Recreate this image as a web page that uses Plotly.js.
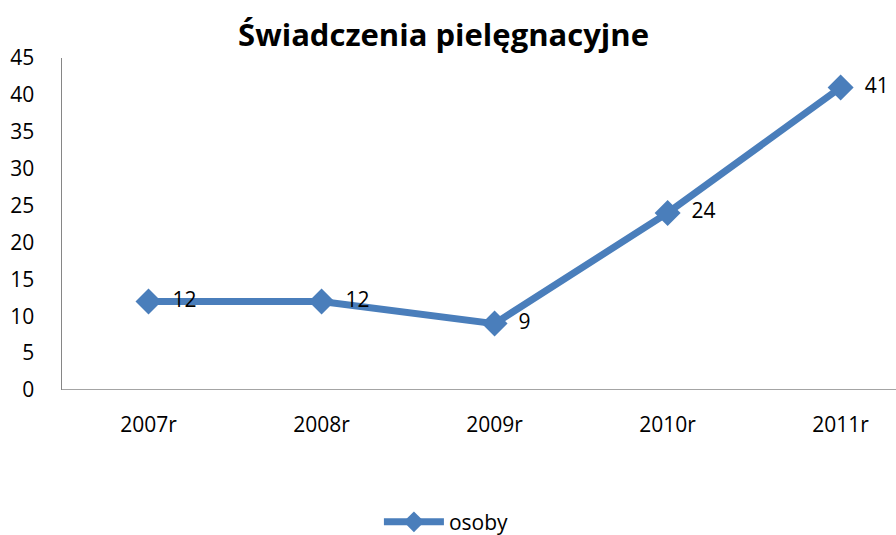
<!DOCTYPE html>
<html><head><meta charset="utf-8">
<script src="https://cdn.plot.ly/plotly-3.0.1.min.js"></script>
<style>body{margin:0;padding:0;background:#fff}#chart{width:896px;height:535px}</style>
</head><body><div id="chart"></div>
<script>
const categories = ["2007r","2008r","2009r","2010r","2011r"];
const osoby = [12,12,9,24,41];
const seriesName = "osoby";
const yTicks = [0,5,10,15,20,25,30,35,40,45];

const fontFam = 'Open Sans, sans-serif';
const trace = {
  x: categories.map((c,i)=>i), y: osoby, name: seriesName,
  type: 'scatter', mode: 'lines+markers+text',
  text: osoby.map(v => '\u2002' + v), textposition: 'middle right',
  textfont: {family: fontFam, size: 21, color: '#000'},
  line: {color: '#4a7ebb', width: 7},
  marker: {symbol: 'diamond', size: 20, color: '#4a7ebb'},
  cliponaxis: false
};
const layout = {
  width: 896, height: 535,
  margin: {l: 62, r: 0, t: 58, b: 145, autoexpand: false},
  paper_bgcolor: '#fff', plot_bgcolor: '#fff',
  title: {text: 'Świadczenia pielęgnacyjne', x: 0.495, xanchor: 'center', y: 0.935, yanchor: 'middle',
    font: {family: fontFam, size: 31, color: '#000', weight: 'bold'}},
  xaxis: {range: [-0.5, 4.32], tickvals: [0,1,2,3,4], ticktext: categories, showgrid: false, zeroline: false,
    showline: false, ticks: '', tickfont: {family: fontFam, size: 21, color: '#000'}, ticklabelstandoff: 20},
  yaxis: {range: [0, 45], tickvals: yTicks, showgrid: false, zeroline: false, showline: true, linecolor: '#868686', linewidth: 1.5,
    ticks: '', tickfont: {family: fontFam, size: 21, color: '#000'}, ticklabelstandoff: 22},
  shapes: [{type: 'line', xref: 'paper', yref: 'y', x0: 0, x1: 1, y0: 0, y1: 0, line: {color: '#868686', width: 1.5}}],
  showlegend: true,
  legend: {orientation: 'h', x: 0.38, xanchor: 'left', yref: 'container', y: 0.024, yanchor: 'middle',
    font: {family: fontFam, size: 21, color: '#000'}, itemwidth: 60}
};
Plotly.newPlot('chart', [trace], layout, {displayModeBar: false, staticPlot: true});
</script></body></html>
